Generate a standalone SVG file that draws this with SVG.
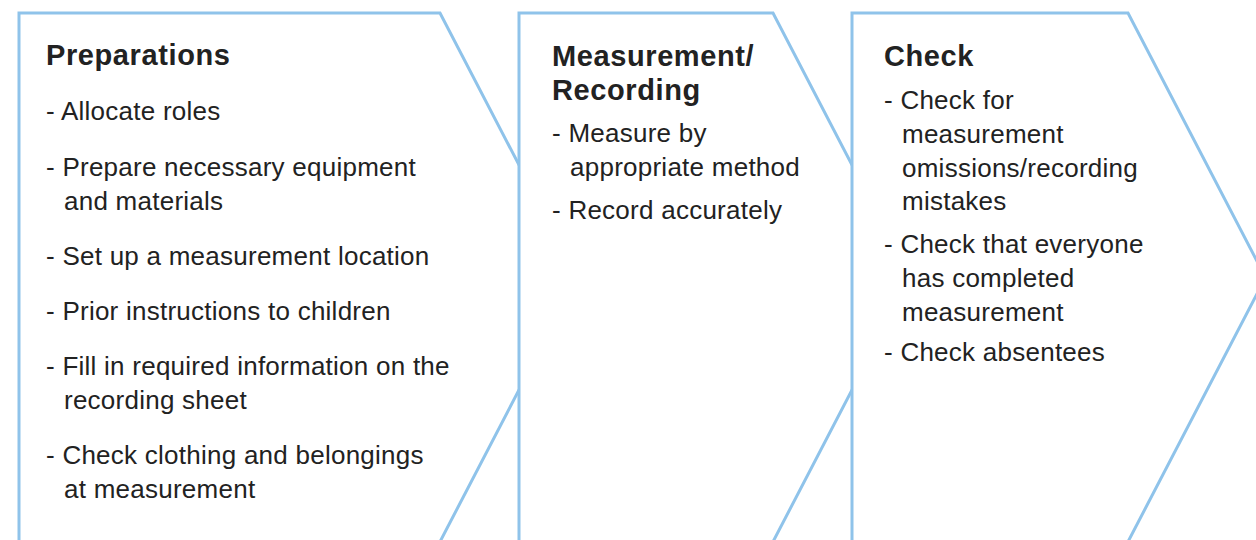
<svg xmlns="http://www.w3.org/2000/svg" width="1256" height="540" viewBox="0 0 1256 540">
  <style>
    .panel { fill: #ffffff; stroke: #8fc3ea; stroke-width: 3; stroke-linejoin: miter; }
    .title { font-family: "Liberation Sans", Arial, Helvetica, sans-serif; font-weight: bold; font-size: 29px; letter-spacing: 0.6px; fill: #222222; }
    .item { font-family: "Liberation Sans", Arial, Helvetica, sans-serif; font-size: 26px; letter-spacing: 0.25px; fill: #222222; }
  </style>
  <rect width="1256" height="540" fill="#ffffff"/>

  <!-- Step 1: chevron whose tip is covered by step 2 -->
  <g id="preparations">
    <polygon class="panel" points="19,13 440,13 577.5,277.5 430.5,560 19,560"/>
    <text class="title" x="46" y="65">Preparations</text>
    <text class="item" x="46" y="120">- Allocate roles</text>
    <text class="item" x="46" y="176">- Prepare necessary equipment</text>
    <text class="item" x="64" y="210">and materials</text>
    <text class="item" x="46" y="265">- Set up a measurement location</text>
    <text class="item" x="46" y="320">- Prior instructions to children</text>
    <text class="item" x="46" y="375">- Fill in required information on the</text>
    <text class="item" x="64" y="409">recording sheet</text>
    <text class="item" x="46" y="464">- Check clothing and belongings</text>
    <text class="item" x="64" y="498">at measurement</text>
  </g>

  <!-- Step 2 -->
  <g id="measurement-recording">
    <polygon class="panel" points="519,13 773,13 910.5,277.5 763.5,560 519,560"/>
    <text class="title" x="552" y="66">Measurement/</text>
    <text class="title" x="552" y="100">Recording</text>
    <text class="item" x="552" y="142">- Measure by</text>
    <text class="item" x="570" y="176">appropriate method</text>
    <text class="item" x="552" y="219">- Record accurately</text>
  </g>

  <!-- Step 3 -->
  <g id="check">
    <polygon class="panel" points="852,13 1128,13 1265.5,277.5 1118.5,560 852,560"/>
    <text class="title" x="884" y="66">Check</text>
    <text class="item" x="884" y="109">- Check for</text>
    <text class="item" x="902" y="143">measurement</text>
    <text class="item" x="902" y="177">omissions/recording</text>
    <text class="item" x="902" y="210">mistakes</text>
    <text class="item" x="884" y="253">- Check that everyone</text>
    <text class="item" x="902" y="287">has completed</text>
    <text class="item" x="902" y="321">measurement</text>
    <text class="item" x="884" y="361">- Check absentees</text>
  </g>

  <g id="connectors"/>
</svg>
